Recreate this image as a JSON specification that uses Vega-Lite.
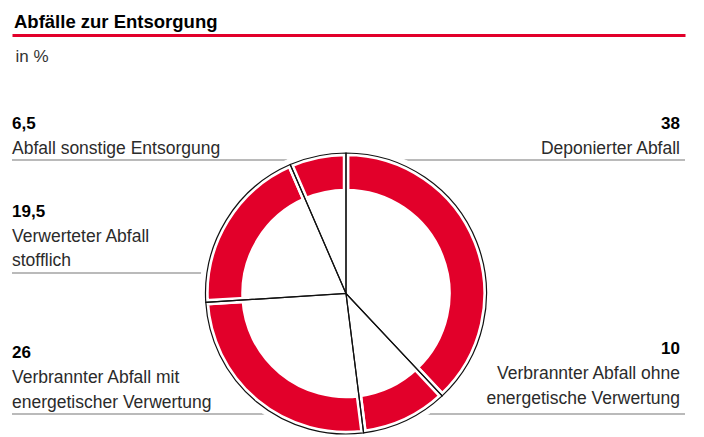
{
  "$schema": "https://vega.github.io/schema/vega-lite/v6.json",
  "width": 673,
  "height": 287,
  "autosize": {"type": "none"},
  "padding": {"left": 12, "top": 150, "right": 19, "bottom": 0},
  "background": "white",
  "config": {
    "view": {"stroke": null},
    "font": "Liberation Sans",
    "locale": {"number": {"decimal": ",", "thousands": ".", "grouping": [3], "currency": ["", "\u00a0€"]}},
    "axisX": {
      "orient": "top", "offset": 115, "domain": true, "domainColor": "#e2002a", "domainWidth": 3, "domainCap": "butt",
      "ticks": false, "labels": false, "grid": false,
      "titleX": 3, "titleY": 21, "titleAlign": "left", "titleBaseline": "middle", "titleAngle": 0,
      "titleFont": "Liberation Sans", "titleFontSize": 17, "titleFontWeight": "normal", "titleColor": "#333333"
    }
  },
  "title": {
    "text": "Abfälle zur Entsorgung",
    "anchor": "start",
    "frame": "group",
    "font": "Liberation Sans",
    "fontSize": 18.5,
    "fontWeight": "bold",
    "color": "#000000",
    "baseline": "alphabetic",
    "offset": 7.5,
    "dx": 2,
    "dy": 19
  },
  "data": {
    "values": [
      {"kategorie": "Deponierter Abfall", "bezeichnung": ["Deponierter Abfall"], "wert": 38, "folge": 1, "seite": "rechts", "zeile": "oben"},
      {"kategorie": "Verbrannter Abfall ohne energetische Verwertung", "bezeichnung": ["Verbrannter Abfall ohne", "energetische Verwertung"], "wert": 10, "folge": 2, "seite": "rechts", "zeile": "unten"},
      {"kategorie": "Verbrannter Abfall mit energetischer Verwertung", "bezeichnung": ["Verbrannter Abfall mit", "energetischer Verwertung"], "wert": 26, "folge": 3, "seite": "links", "zeile": "unten"},
      {"kategorie": "Verwerteter Abfall stofflich", "bezeichnung": ["Verwerteter Abfall", "stofflich"], "wert": 19.5, "folge": 4, "seite": "links", "zeile": "mitte"},
      {"kategorie": "Abfall sonstige Entsorgung", "bezeichnung": ["Abfall sonstige Entsorgung"], "wert": 6.5, "folge": 5, "seite": "links", "zeile": "oben"}
    ]
  },
  "layer": [
    {
      "mark": {"type": "rule", "stroke": "#a3a3a3", "strokeWidth": 1.5},
      "encoding": {
        "x": {"field": "seite", "type": "nominal", "scale": {"type": "point", "domain": ["links", "zentrum", "rechts"], "padding": 0}, "axis": {"title": "in %"}},
        "x2": {"datum": "zentrum"},
        "y": {"field": "zeile", "type": "nominal", "scale": {"type": "point", "domain": ["oben", "o1", "o2", "o3", "mitte", "m1", "m2", "m3", "m4", "unten"], "range": [10, 264], "padding": 0}, "axis": null}
      }
    },
    {
      "mark": {"type": "arc", "radius": 146, "fill": "white", "stroke": "white", "strokeWidth": 1, "xOffset": -2.5},
      "encoding": {
        "theta": {"field": "wert", "type": "quantitative", "stack": true},
        "order": {"field": "folge", "type": "quantitative"}
      }
    },
    {
      "mark": {"type": "arc", "radius": 140.5, "radius2": 101.5, "fill": "#e2002a", "stroke": "white", "strokeWidth": 6.5, "xOffset": -2.5},
      "encoding": {
        "theta": {"field": "wert", "type": "quantitative", "stack": true},
        "order": {"field": "folge", "type": "quantitative"}
      }
    },
    {
      "mark": {"type": "arc", "radius": 140.5, "filled": false, "stroke": "#111111", "strokeWidth": 1.2, "xOffset": -2.5},
      "encoding": {
        "theta": {"field": "wert", "type": "quantitative", "stack": true},
        "order": {"field": "folge", "type": "quantitative"}
      }
    },
    {
      "transform": [{"filter": "datum.seite === 'links' && length(datum.bezeichnung) === 1"}],
      "mark": {"type": "text", "align": "left", "baseline": "bottom", "yOffset": -2.5, "lineHeight": 24.5, "font": "Liberation Sans", "fontSize": 17.5, "color": "#2b2b2b"},
      "encoding": {
        "x": {"field": "seite", "type": "nominal", "scale": {"type": "point", "domain": ["links", "zentrum", "rechts"], "padding": 0}, "axis": {"title": "in %"}},
        "y": {"field": "zeile", "type": "nominal", "scale": {"type": "point", "domain": ["oben", "o1", "o2", "o3", "mitte", "m1", "m2", "m3", "m4", "unten"], "range": [10, 264], "padding": 0}, "axis": null},
        "text": {"field": "bezeichnung", "type": "nominal"}
      }
    },
    {
      "transform": [{"filter": "datum.seite === 'links' && length(datum.bezeichnung) === 2"}],
      "mark": {"type": "text", "align": "left", "baseline": "bottom", "yOffset": -27, "lineHeight": 24.5, "font": "Liberation Sans", "fontSize": 17.5, "color": "#2b2b2b"},
      "encoding": {
        "x": {"field": "seite", "type": "nominal", "scale": {"type": "point", "domain": ["links", "zentrum", "rechts"], "padding": 0}, "axis": {"title": "in %"}},
        "y": {"field": "zeile", "type": "nominal", "scale": {"type": "point", "domain": ["oben", "o1", "o2", "o3", "mitte", "m1", "m2", "m3", "m4", "unten"], "range": [10, 264], "padding": 0}, "axis": null},
        "text": {"field": "bezeichnung", "type": "nominal"}
      }
    },
    {
      "transform": [{"filter": "datum.seite === 'rechts' && length(datum.bezeichnung) === 1"}],
      "mark": {"type": "text", "align": "right", "baseline": "bottom", "xOffset": -5, "yOffset": -2.5, "lineHeight": 24.5, "font": "Liberation Sans", "fontSize": 17.5, "color": "#2b2b2b"},
      "encoding": {
        "x": {"field": "seite", "type": "nominal", "scale": {"type": "point", "domain": ["links", "zentrum", "rechts"], "padding": 0}, "axis": {"title": "in %"}},
        "y": {"field": "zeile", "type": "nominal", "scale": {"type": "point", "domain": ["oben", "o1", "o2", "o3", "mitte", "m1", "m2", "m3", "m4", "unten"], "range": [10, 264], "padding": 0}, "axis": null},
        "text": {"field": "bezeichnung", "type": "nominal"}
      }
    },
    {
      "transform": [{"filter": "datum.seite === 'rechts' && length(datum.bezeichnung) === 2"}],
      "mark": {"type": "text", "align": "right", "baseline": "bottom", "xOffset": -5, "yOffset": -31, "lineHeight": 24.5, "font": "Liberation Sans", "fontSize": 17.5, "color": "#2b2b2b"},
      "encoding": {
        "x": {"field": "seite", "type": "nominal", "scale": {"type": "point", "domain": ["links", "zentrum", "rechts"], "padding": 0}, "axis": {"title": "in %"}},
        "y": {"field": "zeile", "type": "nominal", "scale": {"type": "point", "domain": ["oben", "o1", "o2", "o3", "mitte", "m1", "m2", "m3", "m4", "unten"], "range": [10, 264], "padding": 0}, "axis": null},
        "text": {"field": "bezeichnung", "type": "nominal"}
      }
    },
    {
      "transform": [{"filter": "datum.seite === 'links' && length(datum.bezeichnung) === 1"}],
      "mark": {"type": "text", "align": "left", "baseline": "bottom", "yOffset": -27, "font": "Liberation Sans", "fontSize": 17, "fontWeight": "bold", "color": "#000000"},
      "encoding": {
        "x": {"field": "seite", "type": "nominal", "scale": {"type": "point", "domain": ["links", "zentrum", "rechts"], "padding": 0}, "axis": {"title": "in %"}},
        "y": {"field": "zeile", "type": "nominal", "scale": {"type": "point", "domain": ["oben", "o1", "o2", "o3", "mitte", "m1", "m2", "m3", "m4", "unten"], "range": [10, 264], "padding": 0}, "axis": null},
        "text": {"field": "wert", "type": "quantitative", "format": ".1~f"}
      }
    },
    {
      "transform": [{"filter": "datum.seite === 'links' && length(datum.bezeichnung) === 2"}],
      "mark": {"type": "text", "align": "left", "baseline": "bottom", "yOffset": -52, "font": "Liberation Sans", "fontSize": 17, "fontWeight": "bold", "color": "#000000"},
      "encoding": {
        "x": {"field": "seite", "type": "nominal", "scale": {"type": "point", "domain": ["links", "zentrum", "rechts"], "padding": 0}, "axis": {"title": "in %"}},
        "y": {"field": "zeile", "type": "nominal", "scale": {"type": "point", "domain": ["oben", "o1", "o2", "o3", "mitte", "m1", "m2", "m3", "m4", "unten"], "range": [10, 264], "padding": 0}, "axis": null},
        "text": {"field": "wert", "type": "quantitative", "format": ".1~f"}
      }
    },
    {
      "transform": [{"filter": "datum.seite === 'rechts' && length(datum.bezeichnung) === 1"}],
      "mark": {"type": "text", "align": "right", "baseline": "bottom", "xOffset": -5, "yOffset": -27, "font": "Liberation Sans", "fontSize": 17, "fontWeight": "bold", "color": "#000000"},
      "encoding": {
        "x": {"field": "seite", "type": "nominal", "scale": {"type": "point", "domain": ["links", "zentrum", "rechts"], "padding": 0}, "axis": {"title": "in %"}},
        "y": {"field": "zeile", "type": "nominal", "scale": {"type": "point", "domain": ["oben", "o1", "o2", "o3", "mitte", "m1", "m2", "m3", "m4", "unten"], "range": [10, 264], "padding": 0}, "axis": null},
        "text": {"field": "wert", "type": "quantitative", "format": ".1~f"}
      }
    },
    {
      "transform": [{"filter": "datum.seite === 'rechts' && length(datum.bezeichnung) === 2"}],
      "mark": {"type": "text", "align": "right", "baseline": "bottom", "xOffset": -5, "yOffset": -56, "font": "Liberation Sans", "fontSize": 17, "fontWeight": "bold", "color": "#000000"},
      "encoding": {
        "x": {"field": "seite", "type": "nominal", "scale": {"type": "point", "domain": ["links", "zentrum", "rechts"], "padding": 0}, "axis": {"title": "in %"}},
        "y": {"field": "zeile", "type": "nominal", "scale": {"type": "point", "domain": ["oben", "o1", "o2", "o3", "mitte", "m1", "m2", "m3", "m4", "unten"], "range": [10, 264], "padding": 0}, "axis": null},
        "text": {"field": "wert", "type": "quantitative", "format": ".1~f"}
      }
    }
  ]
}
